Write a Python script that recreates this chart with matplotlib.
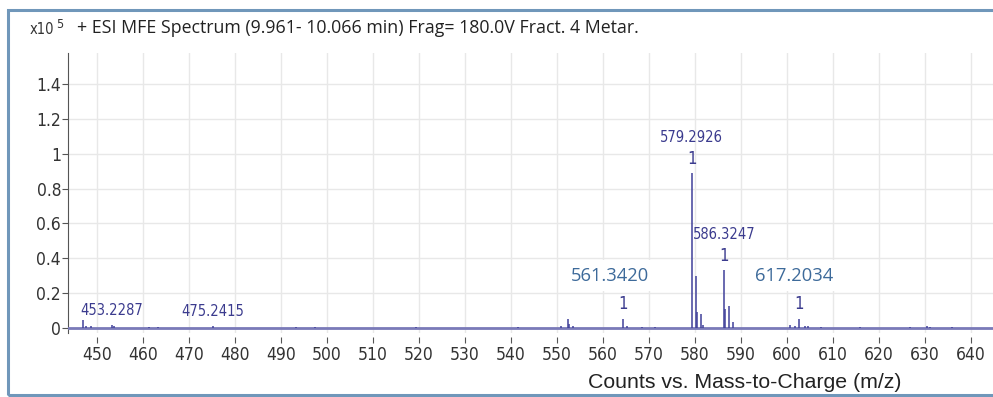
import matplotlib
matplotlib.use("Agg")
import matplotlib.pyplot as plt
from matplotlib.patches import Rectangle
from matplotlib import font_manager

# centroid peaks: m/z and abundance (x10^5 counts)
mz = [446.9, 447.7, 448.8, 453.2, 453.6, 461.3, 463.3, 475.2,
      493.2, 497.4, 519.3, 541.6, 550.9, 552.3, 552.7, 553.5,
      564.3, 565.3, 568.4, 571.3,
      579.29, 580.30, 580.45, 581.30, 581.8,
      586.32, 586.6, 587.33, 588.3,
      600.7, 601.7, 602.6, 603.9, 604.6, 607.5,
      615.9, 626.7, 630.4, 631.0, 635.8]
counts = [0.045, 0.01, 0.008, 0.015, 0.01, 0.006, 0.006, 0.012,
          0.006, 0.006, 0.006, 0.006, 0.008, 0.048, 0.02, 0.008,
          0.05, 0.012, 0.006, 0.006,
          0.89, 0.30, 0.09, 0.077, 0.015,
          0.33, 0.11, 0.125, 0.035,
          0.015, 0.012, 0.05, 0.012, 0.01, 0.006,
          0.006, 0.006, 0.008, 0.006, 0.006]

# annotated peaks (label, position, height, charge shown?)
lab_text = ["453.2287", "475.2415", "579.2926", "586.3247"]
lab_mz = [453.2, 475.2, 579.29, 586.32]
lab_y = [0.015, 0.012, 0.89, 0.33]
lab_charge = [False, False, True, True]

# overlay labels with their charge marks on the small peaks
box_text = ["561.3420", "617.2034"]
box_mz = [561.5, 601.5]
box_y = 0.30
charge_mz = [564.3, 602.6]
charge_y = [0.05, 0.05]

xticks = list(range(450, 641, 10))
yticks = [0, 0.2, 0.4, 0.6, 0.8, 1, 1.2, 1.4]

# condensed face for ticks and peak labels
narrow = font_manager.FontProperties(family="DejaVu Sans", stretch="condensed")
narrow_file = font_manager.findfont(narrow)


def nfont(size):
    return font_manager.FontProperties(fname=narrow_file, size=size)


navy = "#3b3b8e"
line_col = "#40409a"

fig = plt.figure(figsize=(9.93, 3.97), dpi=100)
W, H = 993, 397
ax = fig.add_axes([68 / W, 1 - 333 / H, (993 - 68) / W, (333 - 53) / H])

ax.set_xlim(443.7, 644.8)
ax.set_ylim(-0.03, 1.58)

# baseline and sticks
ax.axhline(0, color="#7a7ab8", lw=2, zorder=3)
ax.vlines(mz, 0, counts, color=line_col, lw=1.1, zorder=4)

lab_size = 10.5
for t, x, y, ch in zip(lab_text, lab_mz, lab_y, lab_charge):
    if ch:
        ax.annotate("1", (x, y), xytext=(0, 5), textcoords="offset pixels",
                    ha="center", va="bottom", fontproperties=nfont(12),
                    color=navy, zorder=5)
        ax.annotate(t, (x, y), xytext=(0, 28), textcoords="offset pixels",
                    ha="center", va="bottom", fontproperties=nfont(lab_size),
                    color=navy, zorder=5)
    else:
        ax.annotate(t, (x, y), xytext=(0, 7), textcoords="offset pixels",
                    ha="center", va="bottom", fontproperties=nfont(lab_size),
                    color=navy, zorder=5)

for x, y in zip(charge_mz, charge_y):
    ax.annotate("1", (x, y), xytext=(0, 6), textcoords="offset pixels",
                ha="center", va="bottom", fontproperties=nfont(12),
                color=navy, zorder=5)

for t, x in zip(box_text, box_mz):
    ax.text(x, box_y, t, ha="center", va="center", fontsize=13.2,
            family="Open Sans", color="#3d6a9a", zorder=5,
            bbox=dict(boxstyle="square,pad=0.35", fc="white", ec="none"))

# axes styling
ax.set_xticks(xticks)
ax.set_yticks(yticks)
ax.set_yticklabels(["0", "0.2", "0.4", "0.6", "0.8", "1", "1.2", "1.4"])
ax.grid(True, color="#e8e8e8", lw=1)
ax.set_axisbelow(True)
for s in ["top", "right"]:
    ax.spines[s].set_visible(False)
ax.spines["bottom"].set_position(("outward", 3))
ax.spines["bottom"].set_color("none")
ax.spines["left"].set_color("#555555")
ax.tick_params(axis="x", length=4, color="#555555", pad=2)
ax.tick_params(axis="y", length=4, color="#555555", pad=1)
for lbl in ax.get_xticklabels() + ax.get_yticklabels():
    lbl.set_fontproperties(nfont(12.5))
    lbl.set_color("#333333")

# title line
fig.text(30 / W, 1 - 30 / H, "x10", fontproperties=nfont(10.5),
         va="center", ha="left", color="#333333")
fig.text(56 / W, 1 - 25 / H, "5", fontproperties=nfont(9),
         va="center", ha="left", color="#333333")
fig.text(77 / W, 1 - 28 / H,
         "+ ESI MFE Spectrum (9.961- 10.066 min) Frag= 180.0V Fract. 4 Metar.",
         family="Open Sans", fontsize=12.8, va="center", ha="left", color="#222222")

fig.text(745 / W, 1 - 383 / H, "Counts vs. Mass-to-Charge (m/z)",
         family="Liberation Sans", fontsize=15.3, va="center", ha="center",
         color="#222222")

# outer frame
fig.patches.append(Rectangle((8 / W, 2 / H), 1.2, 385 / H,
                             transform=fig.transFigure, fill=False,
                             ec="#7097ba", lw=2.2))

fig.savefig("out.png", dpi=100)
